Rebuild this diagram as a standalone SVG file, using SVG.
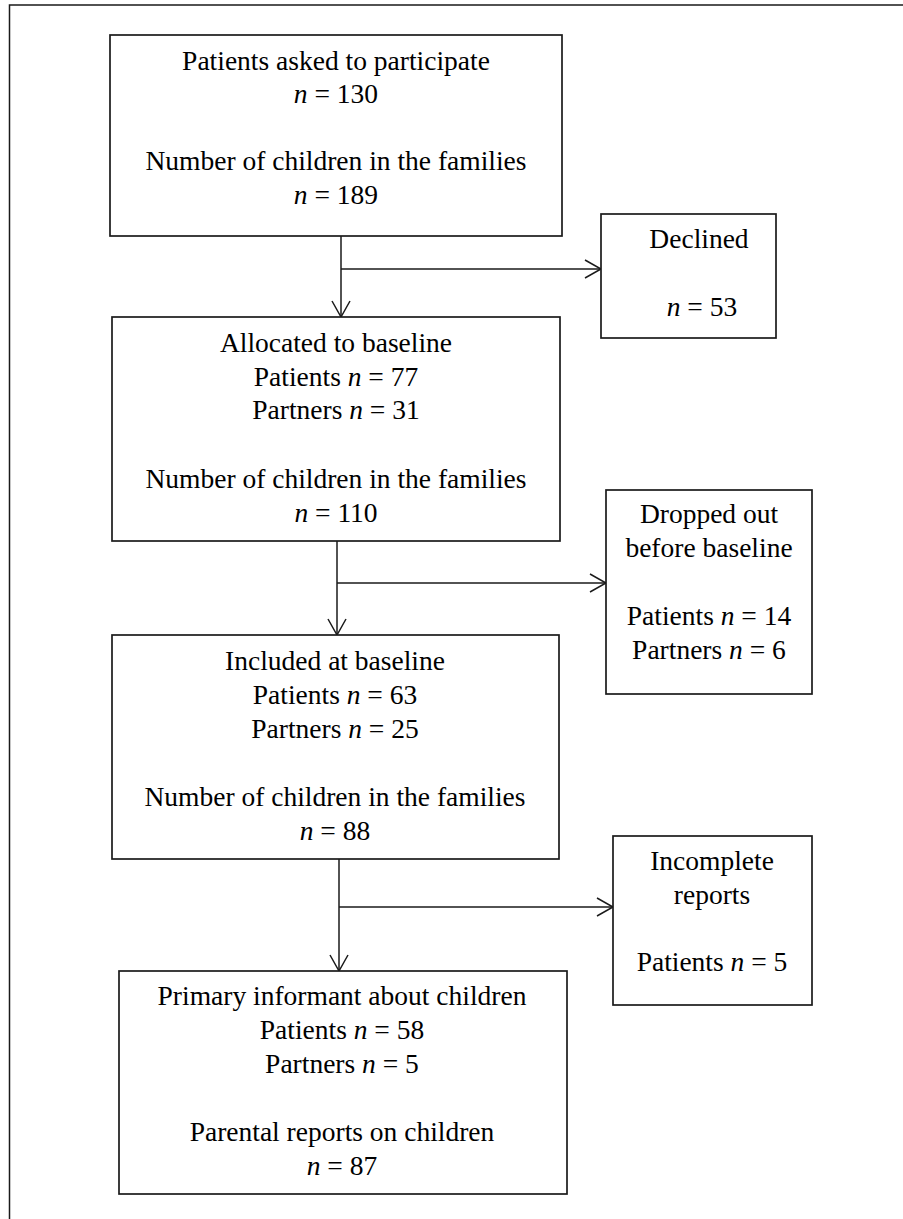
<svg xmlns="http://www.w3.org/2000/svg" width="903" height="1219" viewBox="0 0 903 1219">
<style>
.box{fill:#fff;stroke:#1a1a1a;stroke-width:1.7}
.ln{fill:none;stroke:#1a1a1a;stroke-width:1.5}
text{font-family:"Liberation Serif","Times New Roman",serif;font-size:27.5px;fill:#000;text-anchor:middle}
.i{font-style:italic}
</style>
<defs>
<marker id="ah" viewBox="0 0 20 20" refX="18" refY="10" markerWidth="20" markerHeight="20" markerUnits="userSpaceOnUse" orient="auto">
<path d="M2,1 L18,10 L2,19" fill="none" stroke="#1a1a1a" stroke-width="1.5"/>
</marker>
</defs>
<rect width="903" height="1219" fill="#fff"/>
<g id="frame"><path class="ln" d="M9.5,1219 V5 H903"/></g>
<g id="connectors">
<path class="ln" d="M341,236 V317" marker-end="url(#ah)"/>
<path class="ln" d="M341,269 H601" marker-end="url(#ah)"/>
<path class="ln" d="M337,541 V635" marker-end="url(#ah)"/>
<path class="ln" d="M337,583 H606" marker-end="url(#ah)"/>
<path class="ln" d="M339,859 V971" marker-end="url(#ah)"/>
<path class="ln" d="M339,907 H613" marker-end="url(#ah)"/>
</g>
<g id="n1">
<rect class="box" x="110" y="35" width="452" height="201"/>
<text x="336" y="70">Patients asked to participate</text>
<text x="336" y="103"><tspan class="i">n</tspan> = 130</text>
<text x="336" y="170">Number of children in the families</text>
<text x="336" y="204"><tspan class="i">n</tspan> = 189</text>
</g>
<g id="n_declined">
<rect class="box" x="601" y="214" width="175" height="124"/>
<text x="699" y="248">Declined</text>
<text x="702" y="316"><tspan class="i">n</tspan> = 53</text>
</g>
<g id="n2">
<rect class="box" x="112" y="317" width="448" height="224"/>
<text x="336" y="352">Allocated to baseline</text>
<text x="336" y="386">Patients <tspan class="i">n</tspan> = 77</text>
<text x="336" y="419">Partners <tspan class="i">n</tspan> = 31</text>
<text x="336" y="488">Number of children in the families</text>
<text x="336" y="522"><tspan class="i">n</tspan> = 110</text>
</g>
<g id="n_dropped">
<rect class="box" x="606" y="490" width="206" height="204"/>
<text x="709" y="523">Dropped out</text>
<text x="709" y="557">before baseline</text>
<text x="709" y="625">Patients <tspan class="i">n</tspan> = 14</text>
<text x="709" y="659">Partners <tspan class="i">n</tspan> = 6</text>
</g>
<g id="n3">
<rect class="box" x="112" y="635" width="447" height="224"/>
<text x="335" y="670">Included at baseline</text>
<text x="335" y="704">Patients <tspan class="i">n</tspan> = 63</text>
<text x="335" y="738">Partners <tspan class="i">n</tspan> = 25</text>
<text x="335" y="806">Number of children in the families</text>
<text x="335" y="840"><tspan class="i">n</tspan> = 88</text>
</g>
<g id="n_incomplete">
<rect class="box" x="613" y="836" width="199" height="169"/>
<text x="712" y="870">Incomplete</text>
<text x="712" y="904">reports</text>
<text x="712" y="971">Patients <tspan class="i">n</tspan> = 5</text>
</g>
<g id="n4">
<rect class="box" x="119" y="971" width="448" height="223"/>
<text x="342" y="1005">Primary informant about children</text>
<text x="342" y="1039">Patients <tspan class="i">n</tspan> = 58</text>
<text x="342" y="1073">Partners <tspan class="i">n</tspan> = 5</text>
<text x="342" y="1141">Parental reports on children</text>
<text x="342" y="1175"><tspan class="i">n</tspan> = 87</text>
</g>
</svg>
